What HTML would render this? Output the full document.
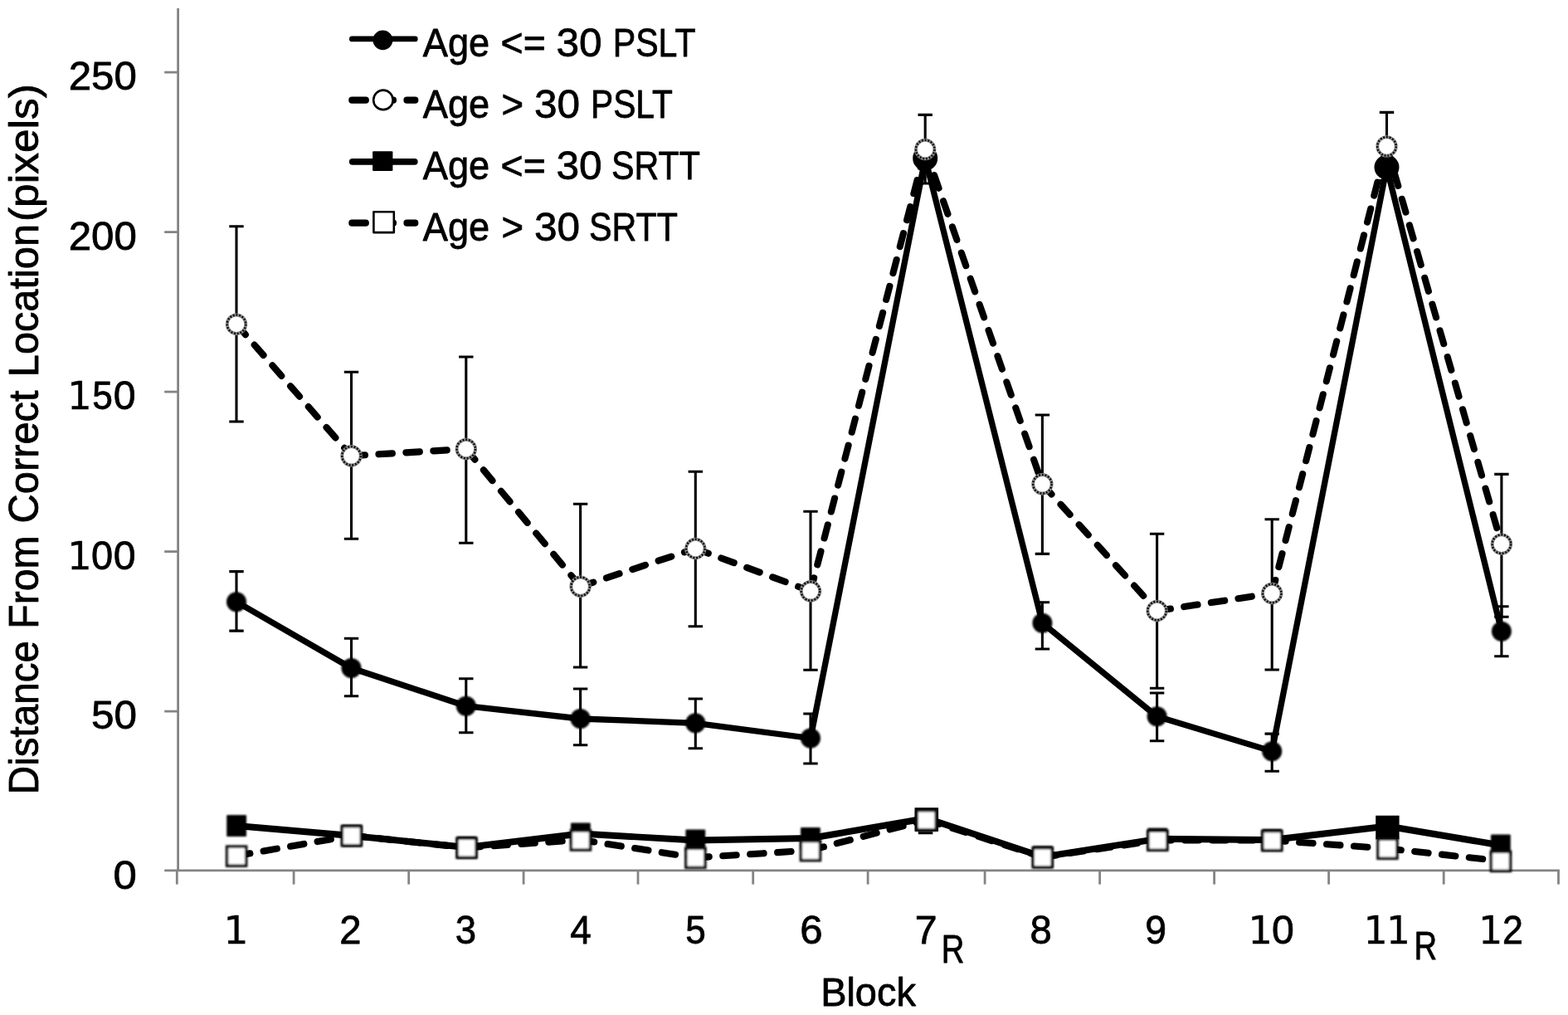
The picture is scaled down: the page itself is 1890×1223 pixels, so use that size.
<!DOCTYPE html>
<html lang="en">
<head>
<meta charset="utf-8">
<title>Distance From Correct Location by Block</title>
<style>
html,body{margin:0;padding:0;background:#fff;}
body{width:1890px;height:1223px;overflow:hidden;}
svg{display:block;}
text{font-family:"Liberation Sans", Arial, Helvetica, sans-serif;fill:#000;stroke:#000;stroke-width:0.8px;stroke-linejoin:round;}
.ax{stroke:#848484;stroke-width:2.8;fill:none;}
.ln{stroke:#000;fill:none;stroke-linejoin:round;stroke-linecap:round;}
.dash{stroke-dasharray:16.5 16.5;}
.eb{stroke:#000;stroke-width:3.1;fill:none;}
.om{fill:#fff;stroke:#111;stroke-width:3.2;}
.ring{fill:none;stroke:#0a0a0a;stroke-width:2.5;stroke-dasharray:1.9 1.82;}
.fm{fill:#000;stroke:none;}
</style>
</head>
<body>
<svg width="1890" height="1223" viewBox="0 0 1890 1223">
<defs>
<filter id="soft" x="-20%" y="-20%" width="140%" height="140%"><feGaussianBlur stdDeviation="0.85"/></filter>
<filter id="soft2" x="-20%" y="-20%" width="140%" height="140%"><feGaussianBlur stdDeviation="0.8"/></filter>
</defs>
<rect width="1890" height="1223" fill="#fff"/>

<g class="ax">
<line x1="214.6" y1="10" x2="214.6" y2="1050.1"/>
<line x1="198.2" y1="1048.8" x2="1879.9" y2="1048.8"/>
<line x1="198.2" y1="857.1" x2="214.6" y2="857.1"/>
<line x1="198.2" y1="664.6" x2="214.6" y2="664.6"/>
<line x1="198.2" y1="472.1" x2="214.6" y2="472.1"/>
<line x1="198.2" y1="279.6" x2="214.6" y2="279.6"/>
<line x1="198.2" y1="87.1" x2="214.6" y2="87.1"/>
<line x1="213.3" y1="1048.8" x2="213.3" y2="1065.6"/>
<line x1="354.1" y1="1048.8" x2="354.1" y2="1065.6"/>
<line x1="492.7" y1="1048.8" x2="492.7" y2="1065.6"/>
<line x1="631.1" y1="1048.8" x2="631.1" y2="1065.6"/>
<line x1="769.0" y1="1048.8" x2="769.0" y2="1065.6"/>
<line x1="907.7" y1="1048.8" x2="907.7" y2="1065.6"/>
<line x1="1046.1" y1="1048.8" x2="1046.1" y2="1065.6"/>
<line x1="1187.1" y1="1048.8" x2="1187.1" y2="1065.6"/>
<line x1="1325.6" y1="1048.8" x2="1325.6" y2="1065.6"/>
<line x1="1463.6" y1="1048.8" x2="1463.6" y2="1065.6"/>
<line x1="1601.6" y1="1048.8" x2="1601.6" y2="1065.6"/>
<line x1="1740.2" y1="1048.8" x2="1740.2" y2="1065.6"/>
<line x1="1878.5" y1="1048.8" x2="1878.5" y2="1065.6"/>
</g>
<g id="pslt-young">
<polyline class="ln" stroke-width="7.3" points="285.0,725.2 423.5,805.0 561.8,850.7 699.6,866.0 838.3,871.3 977.0,889.5 1115.2,190.7 1256.4,750.7 1394.6,863.3 1533.2,905.2 1671.5,201.5 1809.9,760.7"/>
<path class="eb" d="M285.0 688.6V760.1M276.3 688.6h17.4M276.3 760.1h17.4M423.5 769.3V838.7M414.8 769.3h17.4M414.8 838.7h17.4M561.8 817.7V882.7M553.1 817.7h17.4M553.1 882.7h17.4M699.6 830.0V897.8M690.9 830.0h17.4M690.9 897.8h17.4M838.3 842.0V901.8M829.6 842.0h17.4M829.6 901.8h17.4M977.0 860.0V920.0M968.3 860.0h17.4M968.3 920.0h17.4M1256.4 725.7V782.0M1247.7 725.7h17.4M1247.7 782.0h17.4M1394.6 835.0V892.7M1385.9 835.0h17.4M1385.9 892.7h17.4M1533.2 884.1V929.3M1524.5 884.1h17.4M1524.5 929.3h17.4M1809.9 730.7V790.7M1801.2 730.7h17.4M1801.2 790.7h17.4"/>
<g class="fm" filter="url(#soft2)">
<circle cx="285.0" cy="725.2" r="12"/>
<circle cx="423.5" cy="805.0" r="12"/>
<circle cx="561.8" cy="850.7" r="12"/>
<circle cx="699.6" cy="866.0" r="12"/>
<circle cx="838.3" cy="871.3" r="12"/>
<circle cx="977.0" cy="889.5" r="12"/>
<circle cx="1256.4" cy="750.7" r="12"/>
<circle cx="1394.6" cy="863.3" r="12"/>
<circle cx="1533.2" cy="905.2" r="12"/>
<circle cx="1809.9" cy="760.7" r="12"/>
</g>
<circle class="fm" cx="1115.2" cy="190.7" r="15"/>
<circle class="fm" cx="1671.5" cy="201.5" r="15"/>
</g>
<g id="pslt-old">
<line class="ln dash" stroke-width="8.1" x1="285.0" y1="390.7" x2="423.5" y2="549.3"/>
<line class="ln dash" stroke-width="8.1" x1="423.5" y1="549.3" x2="561.8" y2="541.0"/>
<line class="ln dash" stroke-width="8.1" x1="561.8" y1="541.0" x2="699.6" y2="706.7"/>
<line class="ln dash" stroke-width="8.1" x1="699.6" y1="706.7" x2="838.3" y2="661.0"/>
<line class="ln dash" stroke-width="8.1" x1="838.3" y1="661.0" x2="977.0" y2="712.3"/>
<line class="ln dash" stroke-width="8.1" x1="977.0" y1="712.3" x2="1115.2" y2="180.0"/>
<line class="ln dash" stroke-width="8.1" x1="1115.2" y1="180.0" x2="1256.4" y2="583.3"/>
<line class="ln dash" stroke-width="8.1" x1="1256.4" y1="583.3" x2="1394.6" y2="736.0"/>
<line class="ln dash" stroke-width="8.1" x1="1394.6" y1="736.0" x2="1533.2" y2="715.0"/>
<line class="ln dash" stroke-width="8.1" x1="1533.2" y1="715.0" x2="1671.5" y2="176.4"/>
<line class="ln dash" stroke-width="8.1" x1="1671.5" y1="176.4" x2="1809.9" y2="655.6"/>
<path class="eb" d="M285.0 272.7V508.0M276.3 272.7h17.4M276.3 508.0h17.4M423.5 448.3V649.3M414.8 448.3h17.4M414.8 649.3h17.4M561.8 430.0V654.3M553.1 430.0h17.4M553.1 654.3h17.4M699.6 607.3V804.0M690.9 607.3h17.4M690.9 804.0h17.4M838.3 568.3V754.7M829.6 568.3h17.4M829.6 754.7h17.4M977.0 616.3V807.3M968.3 616.3h17.4M968.3 807.3h17.4M1115.2 138.4V221.0M1106.5 138.4h17.4M1106.5 221.0h17.4M1256.4 500.0V667.4M1247.7 500.0h17.4M1247.7 667.4h17.4M1394.6 643.3V829.3M1385.9 643.3h17.4M1385.9 829.3h17.4M1533.2 625.7V807.0M1524.5 625.7h17.4M1524.5 807.0h17.4M1671.5 135.4V217.5M1662.8 135.4h17.4M1662.8 217.5h17.4M1809.9 571.4V743.2M1801.2 571.4h17.4M1801.2 743.2h17.4"/>
<g class="om">
<circle style="stroke:#8c8c8c;stroke-width:3.9" cx="285.0" cy="390.7" r="11.25"/><circle class="ring" cx="285.0" cy="390.7" r="11.25"/>
<circle style="stroke:#8c8c8c;stroke-width:3.9" cx="423.5" cy="549.3" r="11.25"/><circle class="ring" cx="423.5" cy="549.3" r="11.25"/>
<circle style="stroke:#8c8c8c;stroke-width:3.9" cx="561.8" cy="541.0" r="11.25"/><circle class="ring" cx="561.8" cy="541.0" r="11.25"/>
<circle style="stroke:#8c8c8c;stroke-width:3.9" cx="699.6" cy="706.7" r="11.25"/><circle class="ring" cx="699.6" cy="706.7" r="11.25"/>
<circle style="stroke:#8c8c8c;stroke-width:3.9" cx="838.3" cy="661.0" r="11.25"/><circle class="ring" cx="838.3" cy="661.0" r="11.25"/>
<circle style="stroke:#8c8c8c;stroke-width:3.9" cx="977.0" cy="712.3" r="11.25"/><circle class="ring" cx="977.0" cy="712.3" r="11.25"/>
<circle style="stroke:#8c8c8c;stroke-width:3.9" cx="1115.2" cy="180.0" r="11.25"/><circle class="ring" cx="1115.2" cy="180.0" r="11.25"/>
<circle style="stroke:#8c8c8c;stroke-width:3.9" cx="1256.4" cy="583.3" r="11.25"/><circle class="ring" cx="1256.4" cy="583.3" r="11.25"/>
<circle style="stroke:#8c8c8c;stroke-width:3.9" cx="1394.6" cy="736.0" r="11.25"/><circle class="ring" cx="1394.6" cy="736.0" r="11.25"/>
<circle style="stroke:#8c8c8c;stroke-width:3.9" cx="1533.2" cy="715.0" r="11.25"/><circle class="ring" cx="1533.2" cy="715.0" r="11.25"/>
<circle style="stroke:#8c8c8c;stroke-width:3.9" cx="1671.5" cy="176.4" r="11.25"/><circle class="ring" cx="1671.5" cy="176.4" r="11.25"/>
<circle style="stroke:#8c8c8c;stroke-width:3.9" cx="1809.9" cy="655.6" r="11.25"/><circle class="ring" cx="1809.9" cy="655.6" r="11.25"/>
</g></g>
<g id="srtt-young">
<polyline class="ln" stroke-width="7.9" points="285.1,995.0 423.9,1007.0 562.5,1021.0 699.9,1004.5 838.3,1012.5 976.9,1010.0 1116.8,986.0 1256.8,1032.5 1395.3,1010.8 1533.2,1012.0 1672.4,995.5 1808.9,1018.5"/>
<path class="eb" d="M1106.8 1003.7h17.5"/>
<g class="fm" filter="url(#soft2)">
<rect x="273.2" y="982.0" width="23.8" height="26" rx="1"/>
<rect x="412.0" y="994.0" width="23.8" height="26" rx="1"/>
<rect x="550.6" y="1008.0" width="23.8" height="26" rx="1"/>
<rect x="688.0" y="991.5" width="23.8" height="26" rx="1"/>
<rect x="826.4" y="999.5" width="23.8" height="26" rx="1"/>
<rect x="965.0" y="997.0" width="23.8" height="26" rx="1"/>
<rect x="1244.9" y="1019.5" width="23.8" height="26" rx="1"/>
<rect x="1383.4" y="997.8" width="23.8" height="26" rx="1"/>
<rect x="1521.3" y="999.0" width="23.8" height="26" rx="1"/>
<rect x="1797.0" y="1005.5" width="23.8" height="26" rx="1"/>
</g>
<rect class="fm" x="1102.6" y="973.2" width="28.4" height="28.6"/>
<rect class="fm" x="1658.2" y="982.7" width="28.4" height="28.6"/>
</g>
<g id="srtt-old">
<line class="ln dash" stroke-width="8.1" x1="285.1" y1="1031.2" x2="423.9" y2="1006.8"/>
<line class="ln dash" stroke-width="8.1" x1="423.9" y1="1006.8" x2="562.5" y2="1021.4"/>
<line class="ln dash" stroke-width="8.1" x1="562.5" y1="1021.4" x2="699.9" y2="1012.0"/>
<line class="ln dash" stroke-width="8.1" x1="699.9" y1="1012.0" x2="838.3" y2="1033.4"/>
<line class="ln dash" stroke-width="8.1" x1="838.3" y1="1033.4" x2="976.9" y2="1024.6"/>
<line class="ln dash" stroke-width="8.1" x1="976.9" y1="1024.6" x2="1116.8" y2="987.8"/>
<line class="ln dash" stroke-width="8.1" x1="1116.8" y1="987.8" x2="1256.8" y2="1032.8"/>
<line class="ln dash" stroke-width="8.1" x1="1256.8" y1="1032.8" x2="1395.3" y2="1012.4"/>
<line class="ln dash" stroke-width="8.1" x1="1395.3" y1="1012.4" x2="1533.2" y2="1012.6"/>
<line class="ln dash" stroke-width="8.1" x1="1533.2" y1="1012.6" x2="1672.4" y2="1022.4"/>
<line class="ln dash" stroke-width="8.1" x1="1672.4" y1="1022.4" x2="1808.9" y2="1037.4"/>
<g class="om" filter="url(#soft)">
<rect style="stroke-width:3.5;stroke:#111" x="273.6" y="1020.1" width="23.1" height="23.1"/>
<rect style="stroke-width:3.5;stroke:#111" x="412.3" y="995.6" width="23.1" height="23.1"/>
<rect style="stroke-width:3.5;stroke:#111" x="551.0" y="1010.2" width="23.1" height="23.1"/>
<rect style="stroke-width:3.5;stroke:#111" x="688.4" y="1000.9" width="23.1" height="23.1"/>
<rect style="stroke-width:3.5;stroke:#111" x="826.8" y="1022.3" width="23.1" height="23.1"/>
<rect style="stroke-width:3.5;stroke:#111" x="965.4" y="1013.5" width="23.1" height="23.1"/>
<rect style="stroke-width:3.5;stroke:#111" x="1105.2" y="976.6" width="23.1" height="23.1"/>
<rect style="stroke-width:3.5;stroke:#111" x="1245.2" y="1021.7" width="23.1" height="23.1"/>
<rect style="stroke-width:3.5;stroke:#111" x="1383.8" y="1001.2" width="23.1" height="23.1"/>
<rect style="stroke-width:3.5;stroke:#111" x="1521.7" y="1001.5" width="23.1" height="23.1"/>
<rect style="stroke-width:3.5;stroke:#111" x="1660.9" y="1011.2" width="23.1" height="23.1"/>
<rect style="stroke-width:3.5;stroke:#111" x="1797.4" y="1026.3" width="23.1" height="23.1"/>
</g></g>
<g id="legend">
<g style="stroke:#000;stroke-linecap:round;fill:none">
<line stroke-width="6.9" x1="424.4" y1="46.9" x2="500.2" y2="46.9"/>
<line stroke-width="7.9" x1="424.8" y1="194.85" x2="499.7" y2="194.85"/>
<path stroke-width="8.2" d="M424.3 120.7H440.8M457 120.7H474M490.5 120.7H500.3"/>
<path stroke-width="8.2" d="M424.3 268.7H440.8M457 268.7H474M490.5 268.7H500.3"/>
</g>
<circle class="fm" cx="461.4" cy="48.3" r="11.9"/>
<circle class="om" style="stroke:#000;stroke-width:2.6" cx="461.9" cy="120.4" r="11.75"/>
<rect class="fm" x="449.1" y="182.2" width="24.3" height="23.8" rx="1"/>
<rect class="om" style="stroke:#000;stroke-width:2.6;stroke-linejoin:round" x="450.4" y="255.3" width="24.4" height="24.8"/>
<text y="67.60" font-size="48"><tspan x="509.80" textLength="80.43" lengthAdjust="spacingAndGlyphs">Age</tspan> <tspan x="603.58" textLength="54.14" lengthAdjust="spacingAndGlyphs">&lt;=</tspan> <tspan x="670.42" textLength="55.08" lengthAdjust="spacingAndGlyphs">30</tspan> <tspan x="738.71" textLength="99.79" lengthAdjust="spacingAndGlyphs">PSLT</tspan></text>
<text y="141.70" font-size="48"><tspan x="509.80" textLength="80.43" lengthAdjust="spacingAndGlyphs">Age</tspan> <tspan x="604.42" textLength="26.58" lengthAdjust="spacingAndGlyphs">&gt;</tspan> <tspan x="643.92" textLength="55.08" lengthAdjust="spacingAndGlyphs">30</tspan> <tspan x="712.04" textLength="98.75" lengthAdjust="spacingAndGlyphs">PSLT</tspan></text>
<text y="215.60" font-size="48"><tspan x="509.80" textLength="80.43" lengthAdjust="spacingAndGlyphs">Age</tspan> <tspan x="603.58" textLength="54.14" lengthAdjust="spacingAndGlyphs">&lt;=</tspan> <tspan x="670.42" textLength="55.08" lengthAdjust="spacingAndGlyphs">30</tspan> <tspan x="737.04" textLength="107.00" lengthAdjust="spacingAndGlyphs">SRTT</tspan></text>
<text y="289.50" font-size="48"><tspan x="509.80" textLength="80.43" lengthAdjust="spacingAndGlyphs">Age</tspan> <tspan x="604.42" textLength="26.58" lengthAdjust="spacingAndGlyphs">&gt;</tspan> <tspan x="643.92" textLength="55.08" lengthAdjust="spacingAndGlyphs">30</tspan> <tspan x="710.04" textLength="107.00" lengthAdjust="spacingAndGlyphs">SRTT</tspan></text>
</g>
<g id="yticks">
<text y="1070.60" font-size="48"><tspan x="136.47" textLength="28.28" lengthAdjust="spacingAndGlyphs">0</tspan></text>
<text y="878.00" font-size="48"><tspan x="110.02" textLength="54.97" lengthAdjust="spacingAndGlyphs">50</tspan></text>
<text y="685.50" font-size="48"><tspan x="80.95" textLength="29.81" lengthAdjust="spacingAndGlyphs" style="font-family:&quot;DejaVu Sans&quot;,&quot;Liberation Sans&quot;,sans-serif;font-size:46.03px;stroke-width:0.3px">1</tspan><tspan x="110.12" textLength="26.13" lengthAdjust="spacingAndGlyphs">0</tspan><tspan x="136.77" textLength="26.77" lengthAdjust="spacingAndGlyphs">0</tspan></text>
<text y="493.00" font-size="48"><tspan x="80.95" textLength="29.81" lengthAdjust="spacingAndGlyphs" style="font-family:&quot;DejaVu Sans&quot;,&quot;Liberation Sans&quot;,sans-serif;font-size:46.03px;stroke-width:0.3px">1</tspan><tspan x="111.13" textLength="24.62" lengthAdjust="spacingAndGlyphs">5</tspan><tspan x="136.77" textLength="26.77" lengthAdjust="spacingAndGlyphs">0</tspan></text>
<text y="300.50" font-size="48"><tspan x="82.74" textLength="82.06" lengthAdjust="spacingAndGlyphs">200</tspan></text>
<text y="108.00" font-size="48"><tspan x="82.74" textLength="82.06" lengthAdjust="spacingAndGlyphs">250</tspan></text>
</g>
<g id="xticks">
<text y="1137.20" font-size="48"><tspan x="269.21" textLength="30.33" lengthAdjust="spacingAndGlyphs" style="font-family:&quot;DejaVu Sans&quot;,&quot;Liberation Sans&quot;,sans-serif;font-size:46.03px;stroke-width:0.3px">1</tspan></text>
<text y="1137.20" font-size="48"><tspan x="409.24" textLength="26.24" lengthAdjust="spacingAndGlyphs">2</tspan></text>
<text y="1137.20" font-size="48"><tspan x="548.68" textLength="25.33" lengthAdjust="spacingAndGlyphs">3</tspan></text>
<text y="1137.20" font-size="48"><tspan x="687.18" textLength="25.52" lengthAdjust="spacingAndGlyphs">4</tspan></text>
<text y="1137.20" font-size="48"><tspan x="826.34" textLength="24.50" lengthAdjust="spacingAndGlyphs">5</tspan></text>
<text y="1137.20" font-size="48"><tspan x="964.34" textLength="27.33" lengthAdjust="spacingAndGlyphs">6</tspan></text>
<text y="1137.20" font-size="48"><tspan x="1102.79" textLength="26.85" lengthAdjust="spacingAndGlyphs">7</tspan><tspan x="1134.84" dy="22.6" textLength="27.66" lengthAdjust="spacingAndGlyphs">R</tspan></text>
<text y="1137.20" font-size="48"><tspan x="1241.51" textLength="26.27" lengthAdjust="spacingAndGlyphs">8</tspan></text>
<text y="1137.20" font-size="48"><tspan x="1380.18" textLength="25.76" lengthAdjust="spacingAndGlyphs">9</tspan></text>
<text y="1137.20" font-size="48"><tspan x="1504.21" textLength="29.74" lengthAdjust="spacingAndGlyphs" style="font-family:&quot;DejaVu Sans&quot;,&quot;Liberation Sans&quot;,sans-serif;font-size:46.03px;stroke-width:0.3px">1</tspan><tspan x="1532.88" textLength="26.77" lengthAdjust="spacingAndGlyphs">0</tspan></text>
<text y="1137.20" font-size="48"><tspan x="1643.38" textLength="29.30" lengthAdjust="spacingAndGlyphs" style="font-family:&quot;DejaVu Sans&quot;,&quot;Liberation Sans&quot;,sans-serif;font-size:46.03px;stroke-width:0.3px">1</tspan><tspan x="1671.04" textLength="29.00" lengthAdjust="spacingAndGlyphs" style="font-family:&quot;DejaVu Sans&quot;,&quot;Liberation Sans&quot;,sans-serif;font-size:46.03px;stroke-width:0.3px">1</tspan><tspan x="1704.44" dy="18.6" textLength="27.66" lengthAdjust="spacingAndGlyphs">R</tspan></text>
<text y="1137.20" font-size="48"><tspan x="1781.98" textLength="29.30" lengthAdjust="spacingAndGlyphs" style="font-family:&quot;DejaVu Sans&quot;,&quot;Liberation Sans&quot;,sans-serif;font-size:46.03px;stroke-width:0.3px">1</tspan><tspan x="1811.06" textLength="24.91" lengthAdjust="spacingAndGlyphs">2</tspan></text>
</g>
<text y="1212.30" font-size="48.5"><tspan x="989.14" textLength="114.81" lengthAdjust="spacingAndGlyphs">Block</tspan></text>
<g id="ytitle">
<text transform="translate(45.90,0) rotate(-90)" font-size="49.4"><tspan x="-957.21" textLength="185.24" lengthAdjust="spacingAndGlyphs">Distance</tspan> <tspan x="-757.75" textLength="112.29" lengthAdjust="spacingAndGlyphs">From</tspan> <tspan x="-630.54" textLength="160.15" lengthAdjust="spacingAndGlyphs">Correct</tspan> <tspan x="-454.20" textLength="184.16" lengthAdjust="spacingAndGlyphs">Location</tspan> <tspan x="-267.09" textLength="165.91" lengthAdjust="spacingAndGlyphs">(pixels)</tspan></text>
</g>
</svg>
</body>
</html>
